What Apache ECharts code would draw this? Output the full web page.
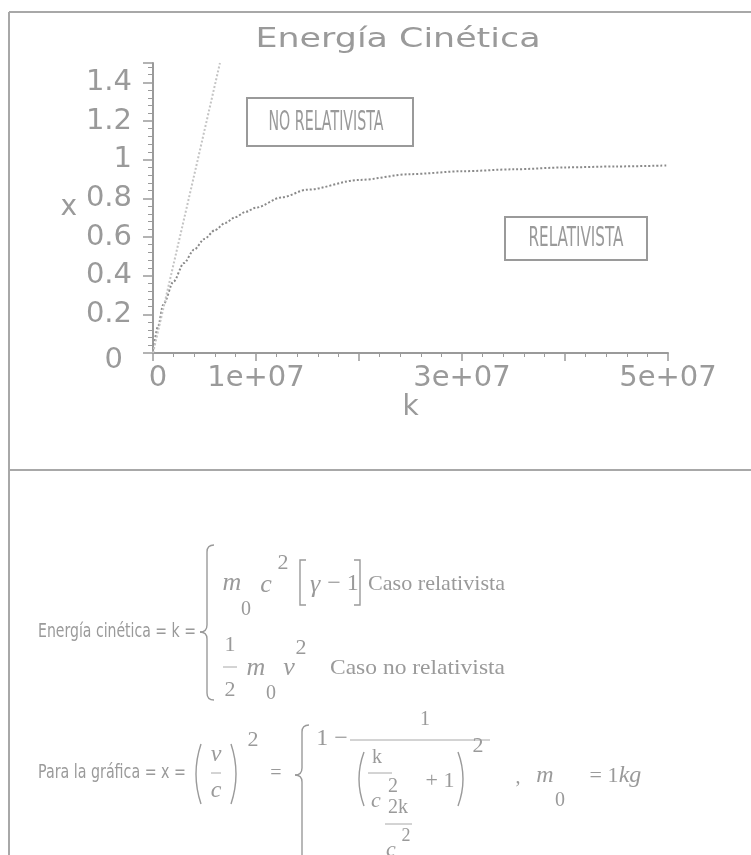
<!DOCTYPE html>
<html>
<head>
<meta charset="utf-8">
<script src="https://cdn.jsdelivr.net/npm/echarts@6/dist/echarts.min.js"></script>
<style>
  html, body { margin: 0; padding: 0; background: #ffffff; }
  #chart { width: 751px; height: 855px; }
</style>
</head>
<body>
<div id="chart"></div>
<script>
// Kinetic energy k (J) against x = (v/c)^2, m0 = 1 kg
const kRel = [0, 5e5, 1e6, 2e6, 3e6, 4e6, 5e6, 6e6, 7e6, 8e6, 9e6, 1e7, 1.25e7, 1.5e7, 2e7, 2.5e7, 3e7, 3.5e7, 4e7, 4.5e7, 5e7];
const xRel = [0, 0.14, 0.25, 0.37, 0.465, 0.535, 0.59, 0.635, 0.672, 0.703, 0.73, 0.752, 0.805, 0.845, 0.895, 0.925, 0.94, 0.95, 0.96, 0.965, 0.97];
const kNoRel = [0, 2e6, 4e6, 6.5e6];
const xNoRel = [0, 0.46, 0.92, 1.5];

const xTicks = [0, 1e7, 3e7, 5e7];
const xTickLabels = ['0', '1e+07', '3e+07', '5e+07'];
const yTicks = [0, 0.2, 0.4, 0.6, 0.8, 1, 1.2, 1.4];
const yTickLabels = ['0', '0.2', '0.4', '0.6', '0.8', '1', '1.2', '1.4'];

const GRAY = '#9a9a9a';
const LINE = '#a8a8a8';
const SANS = '"DejaVu Sans"';
const SERIF = '"Liberation Serif"';

const pairs = (xs, ys) => xs.map((v, i) => [v, ys[i]]);
const pick = (ticks, labels, v) => {
  const i = ticks.findIndex(t => Math.abs(t - v) < 1e-9 * Math.max(1, Math.abs(t)));
  if (i < 0) return '';
  // the origin label sits a little off its tick
  return ticks[i] === 0 ? '{o|' + labels[i] + '}' : labels[i];
};

// text helpers: optional target width squeezes the glyphs horizontally
const measureCtx = document.createElement('canvas').getContext('2d');
function txt(text, x, y, size, family, opts) {
  opts = opts || {};
  const font = (opts.style || '') + ' ' + size + 'px ' + family;
  let sx = 1;
  if (opts.width) {
    measureCtx.font = font;
    sx = opts.width / measureCtx.measureText(text).width;
  }
  const align = opts.align || 'left';
  return {
    type: 'text', x: x, y: y, scaleX: sx, scaleY: opts.sy || 1, silent: true,
    style: {
      text: text, font: font, fill: opts.fill || GRAY,
      align: align, textAlign: align,
      verticalAlign: 'middle', textVerticalAlign: 'middle'
    }
  };
}
function line(x1, y1, x2, y2, w, color) {
  return { type: 'line', silent: true, shape: { x1, y1, x2, y2 },
    style: { stroke: color || LINE, lineWidth: w || 1 } };
}
function curve(x1, y1, cx, cy, x2, y2) {
  return { type: 'bezierCurve', silent: true,
    shape: { x1, y1, cpx1: cx, cpy1: cy, x2, y2 },
    style: { stroke: GRAY, fill: null, lineWidth: 1.4 } };
}
function poly(points) {
  return { type: 'polyline', silent: true, shape: { points },
    style: { stroke: GRAY, fill: null, lineWidth: 1.4 } };
}
// curly brace made of straight runs and rounded hooks
function brace(x, top, mid, bottom) {
  const w = 7;
  return [
    curve(x + w, top, x, top, x, top + w),
    line(x, top + w, x, mid - w, 1.4, GRAY),
    curve(x, mid - w, x, mid, x - w, mid),
    curve(x - w, mid, x, mid, x, mid + w),
    line(x, mid + w, x, bottom - w, 1.4, GRAY),
    curve(x, bottom - w, x, bottom, x + w, bottom)
  ];
}
function paren(x, top, bottom, left) {
  const m = (top + bottom) / 2, d = left ? 1 : -1;
  return curve(x + 5 * d, top, x - 5 * d, m, x + 5 * d, bottom);
}
function bracket(x, top, bottom, left) {
  const d = left ? 6 : -6;
  return poly([[x + d, top], [x, top], [x, bottom], [x + d, bottom]]);
}
function rectBox(x, y, w, h) {
  return { type: 'rect', silent: true, shape: { x, y, width: w, height: h },
    style: { stroke: GRAY, fill: null, lineWidth: 2 } };
}

const graphics = [
  // frame and divider
  line(9, 12, 751, 12, 2),
  line(9, 12, 9, 855, 2),
  line(9, 470, 751, 470, 2),

  // title
  txt('Energía Cinética', 398, 40, 26, SANS, { align: 'center', width: 285 }),

  // curve labels
  rectBox(247, 98, 166, 48),
  txt('NO RELATIVISTA', 326, 123, 26, SANS, { align: 'center', width: 115 }),
  rectBox(505, 217, 142, 43),
  txt('RELATIVISTA', 576, 239, 26, SANS, { align: 'center', width: 95 }),

  // Energía cinética = k = { ... }
  txt('Energía cinética = k =', 38, 632, 20, SANS, { width: 158 }),
  ...brace(207, 545, 632, 700),
  txt('m', 232, 583, 26, SERIF, { style: 'italic', align: 'center' }),
  txt('0', 246, 610, 20, SERIF, { align: 'center' }),
  txt('c', 266, 585, 26, SERIF, { style: 'italic', align: 'center' }),
  txt('2', 283, 563, 22, SERIF, { align: 'center' }),
  bracket(300, 560, 605, true),
  txt('γ', 315, 585, 26, SERIF, { style: 'italic', align: 'center' }),
  txt('− 1', 343, 584, 24, SERIF, { align: 'center' }),
  bracket(360, 560, 605, false),
  txt('Caso relativista', 368, 584, 22, SERIF, { width: 137 }),

  txt('1', 230, 645, 22, SERIF, { align: 'center' }),
  line(223, 667, 237, 667, 1),
  txt('2', 230, 690, 22, SERIF, { align: 'center' }),
  txt('m', 256, 668, 26, SERIF, { style: 'italic', align: 'center' }),
  txt('0', 271, 694, 20, SERIF, { align: 'center' }),
  txt('v', 289, 668, 26, SERIF, { style: 'italic', align: 'center' }),
  txt('2', 301, 648, 22, SERIF, { align: 'center' }),
  txt('Caso no relativista', 330, 668, 22, SERIF, { width: 175 }),

  // Para la gráfica = x = (v/c)^2 = { ... }
  txt('Para la gráfica = x =', 38, 773, 20, SANS, { width: 148 }),
  paren(196, 744, 804, true),
  txt('v', 216, 755, 24, SERIF, { style: 'italic', align: 'center' }),
  line(211, 773, 221, 773, 1),
  txt('c', 216, 791, 24, SERIF, { style: 'italic', align: 'center' }),
  paren(236, 744, 804, false),
  txt('2', 253, 740, 22, SERIF, { align: 'center' }),
  txt('=', 276, 774, 20, SERIF, { align: 'center' }),

  ...brace(302, 725, 775, 880),
  txt('1 −', 332, 739, 24, SERIF, { align: 'center' }),
  txt('1', 425, 720, 20, SERIF, { align: 'center' }),
  line(350, 740, 490, 740, 1),
  paren(359, 752, 806, true),
  txt('k', 377, 758, 20, SERIF, { align: 'center' }),
  line(368, 773, 392, 773, 1),
  txt('c', 376, 801, 22, SERIF, { style: 'italic', align: 'center' }),
  txt('2', 393, 787, 20, SERIF, { align: 'center' }),
  txt('+ 1', 440, 781, 22, SERIF, { align: 'center' }),
  paren(463, 752, 806, false),
  txt('2', 478, 746, 22, SERIF, { align: 'center' }),
  txt(',', 518, 778, 20, SERIF, { align: 'center' }),
  txt('m', 545, 776, 24, SERIF, { style: 'italic', align: 'center' }),
  txt('0', 560, 801, 20, SERIF, { align: 'center' }),
  txt('= 1', 604, 776, 22, SERIF, { align: 'center' }),
  txt('kg', 630, 776, 24, SERIF, { style: 'italic', align: 'center' }),

  txt('2k', 398, 808, 20, SERIF, { align: 'center' }),
  line(385, 824, 412, 824, 1),
  txt('c', 391, 850, 22, SERIF, { style: 'italic', align: 'center' }),
  txt('2', 406, 836, 18, SERIF, { align: 'center' })
];

const labelFont = { color: GRAY, fontSize: 29, fontFamily: SANS };

const chart = echarts.init(document.getElementById('chart'), null, { renderer: 'canvas' });
chart.setOption({
  backgroundColor: '#ffffff',
  animation: false,
  grid: { left: 153, top: 63, right: 83, bottom: 502, containLabel: false },
  xAxis: {
    type: 'value', min: 0, max: 5e7, interval: 1e7,
    name: 'k', nameLocation: 'middle', nameGap: 38,
    nameTextStyle: { color: GRAY, fontSize: 28, fontFamily: SANS },
    axisLine: { show: true, onZero: false, lineStyle: { color: GRAY, width: 2 } },
    axisTick: { show: true, length: 8, lineStyle: { color: GRAY, width: 1.5 } },
    minorTick: { show: true, splitNumber: 5, length: 4, lineStyle: { color: GRAY, width: 1 } },
    splitLine: { show: false },
    axisLabel: Object.assign({}, labelFont, {
      margin: 11,
      formatter: v => pick(xTicks, xTickLabels, v),
      rich: { o: Object.assign({}, labelFont, { padding: [0, 0, 0, 10] }) }
    })
  },
  yAxis: {
    type: 'value', min: 0, max: 1.5, interval: 0.2,
    name: 'x', nameLocation: 'middle', nameGap: 76, nameRotate: 0,
    nameTextStyle: { color: GRAY, fontSize: 28, fontFamily: SANS },
    axisLine: { show: true, onZero: false, lineStyle: { color: GRAY, width: 2 } },
    axisTick: { show: true, length: 10, lineStyle: { color: GRAY, width: 1.5 } },
    minorTick: { show: true, splitNumber: 5, length: 5, lineStyle: { color: GRAY, width: 1 } },
    splitLine: { show: false },
    axisLabel: Object.assign({}, labelFont, {
      margin: 21, showMaxLabel: false,
      formatter: v => pick(yTicks, yTickLabels, v),
      rich: { o: Object.assign({}, labelFont, { padding: [14, 9, 0, 0] }) }
    })
  },
  series: [
    {
      name: 'RELATIVISTA', type: 'line', data: pairs(kRel, xRel),
      showSymbol: false, smooth: 0.3, smoothMonotone: 'x', clip: true,
      lineStyle: { color: '#8a8a8a', width: 2, type: [2, 2] }
    },
    {
      name: 'NO RELATIVISTA', type: 'line', data: pairs(kNoRel, xNoRel),
      showSymbol: false, clip: true,
      lineStyle: { color: '#c4c4c4', width: 2, type: [2, 2] }
    }
  ],
  graphic: { elements: graphics }
});
</script>
</body>
</html>
